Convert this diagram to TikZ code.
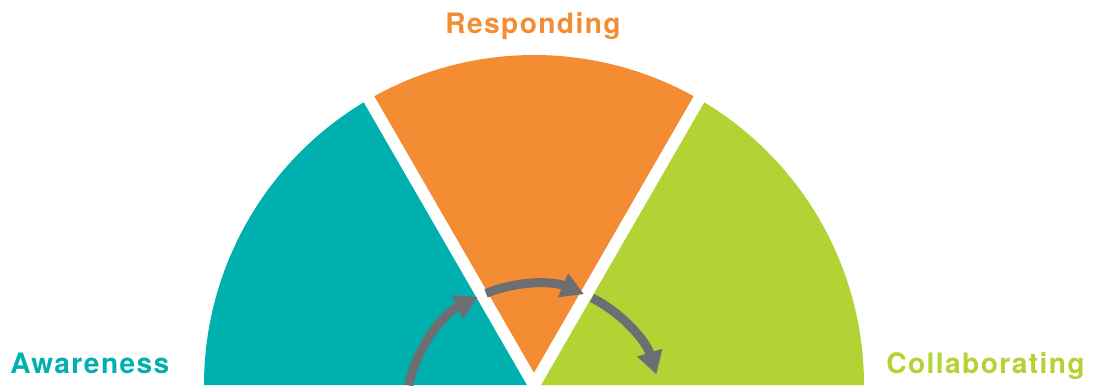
\documentclass[tikz,border=0pt]{standalone}
\usepackage{fontspec}
\setmainfont{TeX Gyre Heros}
\usetikzlibrary{arrows.meta}
\definecolor{awareteal}{HTML}{00B0AF}
\definecolor{respondorange}{HTML}{F48C34}
\definecolor{collabgreen}{HTML}{B3D334}
\definecolor{arrowgray}{HTML}{6D6E71}

\begin{document}
\begin{tikzpicture}[>={Triangle[length=13pt,width=14pt]}, every node/.style={font=\fontsize{16}{18}\selectfont\bfseries\addfontfeature{LetterSpace=5}}]
\tikzstyle{gap}=[draw=white, line width=0.24cm]
\tikzstyle{turn}=[->, draw=arrowgray, line width=0.18cm]
\useasboundingbox (-10.68,0) rectangle (11.18,7.7);
\clip (-10.68,0) rectangle (11.18,7.7);
\coordinate (O) at (0,0);
\coordinate (hub) at (0,-0.54);
% the three sectors
\fill[awareteal] (O) -- (180:6.6) arc (180:120:6.6) -- cycle;
\fill[respondorange] (O) -- (120:6.6) arc (120:60:6.6) -- cycle;
\fill[collabgreen] (O) -- (60:6.6) arc (60:0:6.6) -- cycle;
\draw[gap] (O) -- (120:7);
\draw[gap] (O) -- (60:7);
% labels
\node[text=respondorange, anchor=base] (resp) at (-0.02,7.04) {Responding};
\node[text=awareteal, anchor=base west, inner sep=0pt] (aware) at (-10.48,0.24) {Awareness};
\node[text=collabgreen, anchor=base east, inner sep=0pt] (collab) at (11.02,0.24) {Collaborating};
% arrows between the phases
\coordinate (a1) at ([shift={(168:2.56)}]hub);
\coordinate (a2) at ([shift={(112:2.56)}]hub);
\coordinate (a3) at ([shift={(63:2.56)}]hub);
\draw[turn] (a1) arc (168:116:2.56);
\draw[turn] (a2) arc (112:67:2.56);
\draw[turn] (a3) arc (63:17:2.56);
\end{tikzpicture}
\end{document}
